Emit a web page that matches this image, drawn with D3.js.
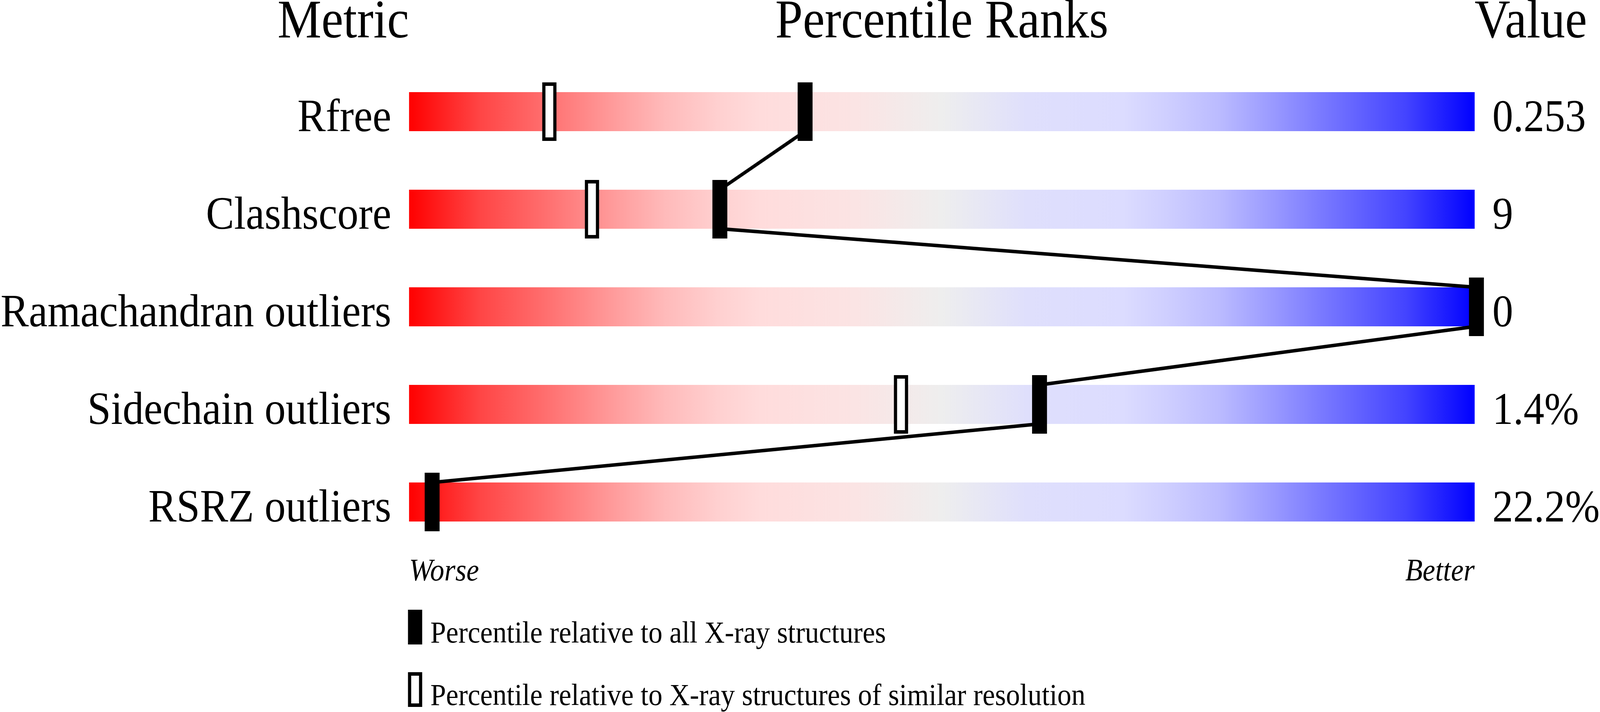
<!DOCTYPE html>
<html>
<head>
<meta charset="utf-8">
<script src="https://cdn.jsdelivr.net/npm/d3@7"></script>
<style>
  html, body { margin: 0; padding: 0; background: #fff; width: 100%; height: 100%; overflow: hidden; }
  #chart svg { display: block; }
  text { font-family: "Liberation Serif", "Times New Roman", serif; fill: #000; }
</style>
</head>
<body>
<div id="chart"></div>
<script>
var metrics = ['Rfree', 'Clashscore', 'Ramachandran outliers', 'Sidechain outliers', 'RSRZ outliers'];
var values = ['0.253', '9', '0', '1.4%', '22.2%'];
// percentile relative to all X-ray structures (filled markers)
var pct_all = [37, 29, 100, 59, 2];
// percentile relative to structures of similar resolution (open markers)
var pct_similar = [13, 17, null, 46, null];
var headers = ['Metric', 'Percentile Ranks', 'Value'];
var ends = ['Worse', 'Better'];
var legend_labels = ['Percentile relative to all X-ray structures',
                     'Percentile relative to X-ray structures of similar resolution'];

var chart_width = 4506;
var chart_height = 1824;
var bar_left = 1152;
var bar_right = 4153;
var marker_shift = 5;

// viewBox stretched over the whole window
var svg = d3.select('#chart')
      .append('svg')
      .attr('viewBox', '0 0 ' + chart_width + ' ' + chart_height)
      .attr('preserveAspectRatio', 'none')
      .attr('width', '100vw')
      .attr('height', '100vh');

//scales
var x_scale = d3.scaleLinear()
        .domain([0, 100])
        .range([bar_left, bar_right]);

var y_scale = d3.scaleBand()
        .domain(metrics)
        .range([161, 1411])
        .paddingInner(0.6)
        .paddingOuter(0.3);

var bh = y_scale.bandwidth();

// gradient red -> grey -> blue
var stops = [
  [0, '#ff0000'], [6.5, '#ff4444'], [13, '#ff7070'], [19, '#ff9a9a'],
  [24, '#ffbaba'], [29, '#ffd0d0'], [33, '#ffdcdc'], [42, '#fbe4e4'],
  [50, '#eeeeee'], [58, '#dfdffc'], [67, '#dcdcff'], [71, '#cfcfff'],
  [76, '#bbbbff'], [81, '#9a9aff'], [87, '#7070ff'], [93.5, '#4444ff'],
  [100, '#0000ff']
];
var grad = svg.append('defs')
   .append('linearGradient')
   .attr('id', 'slider-grad')
   .attr('x1', '0%').attr('x2', '100%')
   .attr('y1', '0%').attr('y2', '0%');
grad.selectAll('stop')
   .data(stops)
   .enter()
   .append('stop')
   .attr('offset', function(d) { return d[0] + '%'; })
   .attr('stop-color', function(d) { return d[1]; });

//headers
svg.append('text')
   .attr('x', x_scale(0))
   .attr('y', 96)
   .attr('text-anchor', 'end')
   .attr('font-size', 139)
   .text(headers[0]);
svg.append('text')
   .attr('x', (x_scale(0) + x_scale(100)) / 2)
   .attr('y', 96)
   .attr('text-anchor', 'middle')
   .attr('font-size', 139)
   .text(headers[1]);
svg.append('text')
   .attr('x', x_scale(100))
   .attr('y', 96)
   .attr('text-anchor', 'start')
   .attr('font-size', 139)
   .text(headers[2]);

//bars
svg.append('g')
   .selectAll('rect')
   .data(metrics)
   .enter()
   .append('rect')
   .attr('x', x_scale(0))
   .attr('y', function(d) { return y_scale(d); })
   .attr('width', x_scale(100) - x_scale(0))
   .attr('height', bh)
   .attr('fill', 'url(#slider-grad)');

//metric labels
svg.append('g')
   .selectAll('text')
   .data(metrics)
   .enter()
   .append('text')
   .attr('x', x_scale(0) - 50)
   .attr('y', function(d) { return y_scale(d) + bh; })
   .attr('text-anchor', 'end')
   .attr('font-size', 119)
   .text(function(d) { return d; });

//values
svg.append('g')
   .selectAll('text')
   .data(values)
   .enter()
   .append('text')
   .attr('x', x_scale(100) + 50)
   .attr('y', function(d, i) { return y_scale(metrics[i]) + bh; })
   .attr('text-anchor', 'start')
   .attr('font-size', 117)
   .text(function(d) { return d; });

//connecting line through filled markers (bottom of one bar to top of next)
var pts = [];
pct_all.forEach(function(p, i) {
  var px = x_scale(p) + marker_shift;
  pts.push([px, y_scale(metrics[i])]);
  pts.push([px, y_scale(metrics[i]) + bh]);
});
pts = pts.slice(1, pts.length - 1);

svg.append('path')
   .datum(pts)
   .attr('d', d3.line())
   .attr('fill', 'none')
   .attr('stroke', '#000')
   .attr('stroke-width', 9)
   .attr('stroke-linejoin', 'round');

//open markers
svg.append('g')
   .selectAll('rect')
   .data(pct_similar.map(function(p, i) { return { p: p, m: metrics[i] }; })
          .filter(function(d) { return d.p !== null; }))
   .enter()
   .append('rect')
   .attr('x', function(d) { return x_scale(d.p) + marker_shift - 15.5; })
   .attr('y', function(d) { return y_scale(d.m) - 20.5; })
   .attr('width', 31)
   .attr('height', bh + 41)
   .attr('fill', '#fff')
   .attr('stroke', '#000')
   .attr('stroke-width', 9);

//filled markers
svg.append('g')
   .selectAll('rect')
   .data(pct_all)
   .enter()
   .append('rect')
   .attr('x', function(d) { return x_scale(d) + marker_shift - 21; })
   .attr('y', function(d, i) { return y_scale(metrics[i]) - 25; })
   .attr('width', 42)
   .attr('height', bh + 50)
   .attr('fill', '#000');

//worse / better
svg.append('text')
   .attr('x', x_scale(0))
   .attr('y', 1487)
   .attr('font-size', 80)
   .attr('font-style', 'italic')
   .text(ends[0]);
svg.append('text')
   .attr('x', x_scale(100))
   .attr('y', 1487)
   .attr('text-anchor', 'end')
   .attr('font-size', 80)
   .attr('font-style', 'italic')
   .text(ends[1]);

//legend
var legend = svg.append('g');
legend.append('rect')
   .attr('x', 1149)
   .attr('y', 1562)
   .attr('width', 40)
   .attr('height', 89)
   .attr('fill', '#000');
legend.append('rect')
   .attr('x', 1153.5)
   .attr('y', 1726.5)
   .attr('width', 31)
   .attr('height', 80)
   .attr('fill', '#fff')
   .attr('stroke', '#000')
   .attr('stroke-width', 9);
legend.selectAll('text')
   .data(legend_labels)
   .enter()
   .append('text')
   .attr('x', 1212)
   .attr('y', function(d, i) { return 1646 + i * 160; })
   .attr('font-size', 79)
   .text(function(d) { return d; });
</script>
</body>
</html>
